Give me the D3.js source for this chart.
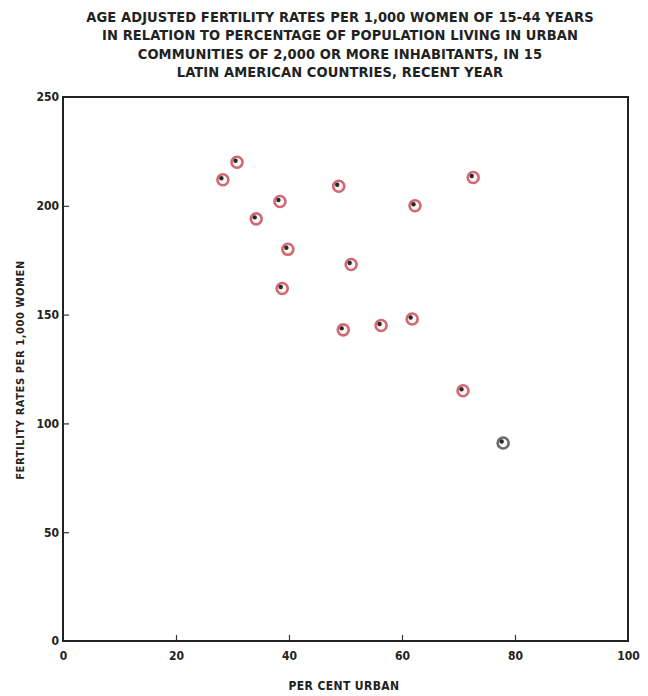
<!DOCTYPE html>
<html>
<head>
<meta charset="utf-8">
<script src="https://cdn.jsdelivr.net/npm/d3@7"></script>
<style>
  html, body { margin: 0; padding: 0; background: #fff; }
  svg { display: block; }
  text { font-family: "DejaVu Sans Condensed", "Liberation Sans Narrow", sans-serif; font-weight: bold; fill: #222; }
</style>
</head>
<body>
<svg id="chart" width="648" height="696"></svg>
<script>
// Per cent urban population and age-adjusted fertility rate, one point per country
const percentUrban = [28.3, 30.8, 34.2, 38.4, 39.8, 38.8, 48.8, 51.0, 49.6, 56.3, 62.3, 61.8, 72.6, 70.8, 77.9];
const fertilityRate = [212, 220, 194, 202, 180, 162, 209, 173, 143, 145, 200, 148, 213, 115, 91];
const markerTone = ["red","red","red","red","red","red","red","red","red","red","red","red","red","red","grey"];

const xTicks = [0, 20, 40, 60, 80, 100];
const yTicks = [0, 50, 100, 150, 200, 250];

const titleLines = [
  "AGE ADJUSTED FERTILITY RATES PER 1,000 WOMEN OF 15-44 YEARS",
  "IN RELATION TO PERCENTAGE OF POPULATION LIVING IN URBAN",
  "COMMUNITIES OF 2,000 OR MORE INHABITANTS, IN 15",
  "LATIN AMERICAN COUNTRIES, RECENT YEAR"
];

const svg = d3.select("#chart");
const plotLeft = 63, plotRight = 628, plotTop = 97, plotBottom = 641;

const x = d3.scaleLinear().domain([0, 100]).range([plotLeft, plotRight]);
const y = d3.scaleLinear().domain([0, 250]).range([plotBottom, plotTop]);

// Title
svg.append("g").selectAll("text").data(titleLines).join("text")
  .attr("x", 340).attr("y", (d, i) => 22 + i * 18.3)
  .attr("text-anchor", "middle")
  .attr("font-size", 14.5)
  .style("letter-spacing", "0.1px")
  .text(d => d);

// Frame
svg.append("rect")
  .attr("x", plotLeft).attr("y", plotTop)
  .attr("width", plotRight - plotLeft).attr("height", plotBottom - plotTop)
  .attr("fill", "none").attr("stroke", "#222").attr("stroke-width", 2);

// Axes with inward ticks
const xAxis = svg.append("g").attr("transform", `translate(0,${plotBottom})`)
  .call(d3.axisBottom(x).tickValues(xTicks).tickSizeInner(-6).tickSizeOuter(0).tickPadding(10));
const yAxis = svg.append("g").attr("transform", `translate(${plotLeft},0)`)
  .call(d3.axisLeft(y).tickValues(yTicks).tickSizeInner(-6).tickSizeOuter(0).tickPadding(4));

[xAxis, yAxis].forEach(a => {
  a.select(".domain").remove();
  a.selectAll(".tick line").attr("stroke", "#333").attr("stroke-width", 1.2);
  a.selectAll(".tick text").attr("font-size", 12).attr("fill", "#222")
    .style("font-family", '"DejaVu Sans Condensed", "Liberation Sans Narrow", sans-serif')
    .style("font-weight", "bold");
});
xAxis.selectAll(".tick line").filter(d => d === 0 || d === 100).remove();
yAxis.selectAll(".tick line").filter(d => d === 0 || d === 250).remove();

// Axis titles
svg.append("text")
  .attr("x", 344).attr("y", 690)
  .attr("text-anchor", "middle").attr("font-size", 12)
  .style("letter-spacing", "0.4px")
  .text("PER CENT URBAN");

svg.append("text")
  .attr("transform", "translate(24,370) rotate(-90)")
  .attr("text-anchor", "middle").attr("font-size", 11)
  .style("letter-spacing", "0.6px")
  .text("FERTILITY RATES PER 1,000 WOMEN");

// Points: ringed markers with a dark centre dot
const points = percentUrban.map((u, i) => ({ u, f: fertilityRate[i], tone: markerTone[i] }));
const g = svg.append("g").selectAll("g").data(points).join("g")
  .attr("transform", d => `translate(${x(d.u)},${y(d.f)})`);

g.append("circle")
  .attr("r", 5.5)
  .attr("fill", "#fbf6f6")
  .attr("stroke", d => d.tone === "red" ? "#d46872" : "#6a6a6a")
  .attr("stroke-width", 2.6);

g.append("circle")
  .attr("cx", -1.5).attr("cy", -1.5).attr("r", 2.2)
  .attr("fill", "#2a2a2a");
</script>
</body>
</html>
